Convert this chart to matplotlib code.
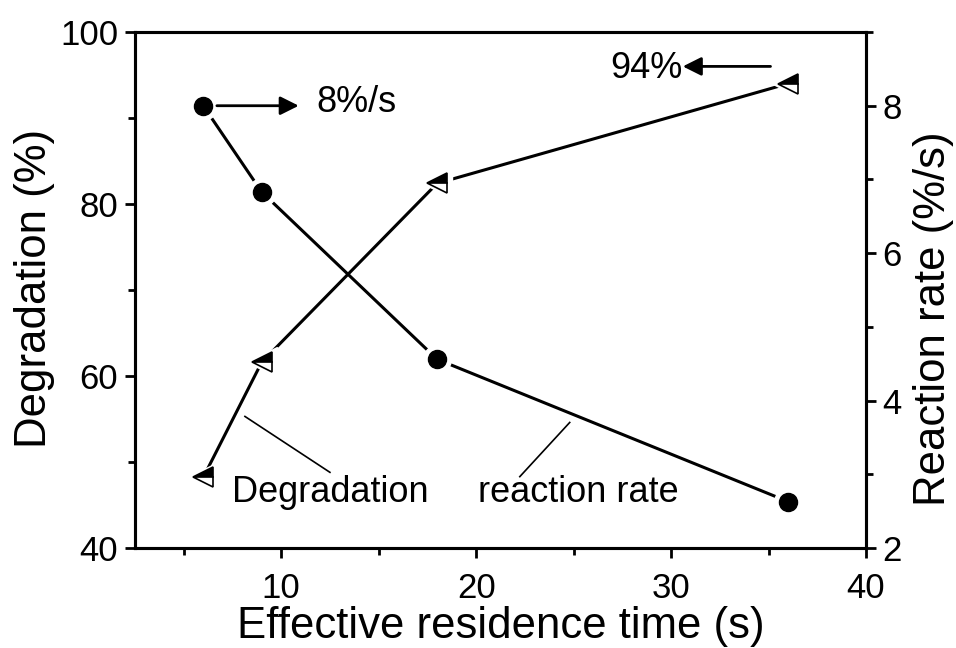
import numpy as np
import matplotlib
matplotlib.use("Agg")
import matplotlib.pyplot as plt
from matplotlib.ticker import MultipleLocator

plt.rcParams['font.family'] = ['Liberation Sans', 'DejaVu Sans']

# residence time (s) and the two measured series
time_s = [6, 9, 18, 36]
degradation = [48.2, 61.6, 82.4, 94]
reaction_rate = [8.0, 6.83, 4.56, 2.63]

fig = plt.figure(figsize=(9.56, 6.48), dpi=100)
ax = fig.add_axes([0.1412, 0.1543, 0.7647, 0.7963])
ax2 = ax.twinx()

for a in (ax, ax2):
    for sp in a.spines.values():
        sp.set_linewidth(2.2)
    a.tick_params(which='major', direction='out', length=7, width=2.0,
                  labelsize=25, pad=5)
    a.tick_params(which='minor', direction='out', length=5, width=2.0)

ax.set_xlim(2.5, 40)
ax.set_ylim(40, 100)
ax2.set_ylim(2, 9)
ax.xaxis.set_major_locator(MultipleLocator(10))
ax.xaxis.set_minor_locator(MultipleLocator(5))
ax.yaxis.set_major_locator(MultipleLocator(20))
ax.yaxis.set_minor_locator(MultipleLocator(10))
ax2.yaxis.set_major_locator(MultipleLocator(2))
ax2.yaxis.set_minor_locator(MultipleLocator(1))
ax.tick_params(axis='x', which='both', top=False)
ax.tick_params(axis='x', pad=10)

# lines with small gaps around the symbols
ax.plot(time_s, degradation, color='black', lw=2.2, zorder=2)
ax.plot(time_s, degradation, ls='none', marker='<', ms=21, mfc='white',
        mec='white', zorder=3)
ax.plot(time_s, degradation, ls='none', marker='<', ms=15, mfc='black',
        mfcalt='white', fillstyle='top', mec='black', mew=1.2, zorder=4)

ax2.plot(time_s, reaction_rate, color='black', lw=2.2, zorder=2)
ax2.plot(time_s, reaction_rate, ls='none', marker='o', ms=20, mfc='white',
         mec='white', zorder=3)
ax2.plot(time_s, reaction_rate, ls='none', marker='o', ms=13, color='black',
         zorder=4)

ax.set_xlabel('Effective residence time (s)', fontsize=31.5, labelpad=1)
fig.text(35 / 956, 1 - 288 / 648, 'Degradation (%)', fontsize=31.5,
         rotation=90, ha='center', va='center')
fig.text(933 / 956, 1 - 319 / 648, 'Reaction rate (%/s)', fontsize=31.5,
         rotation=90, ha='center', va='center')

# arrows pointing to the axis each series belongs to
ax2.annotate('', xy=(10.9, reaction_rate[0]), xytext=(6.7, reaction_rate[0]),
             arrowprops=dict(arrowstyle='-|>', color='black', lw=2.0,
                             mutation_scale=28, shrinkA=0, shrinkB=0))
ax2.text(11.8, reaction_rate[0] + 0.04, '%d%%/s' % round(reaction_rate[0]),
         fontsize=26, ha='left', va='center')

ax.annotate('', xy=(30.6, 96.0), xytext=(35.1, 96.0),
            arrowprops=dict(arrowstyle='-|>', color='black', lw=2.0,
                            mutation_scale=28, shrinkA=0, shrinkB=0))
ax.text(30.6, 95.7, '%d%%' % degradation[-1], fontsize=26, ha='right',
        va='center')

# series labels with leader lines
ax.text(7.5, 45.3, 'Degradation', fontsize=26, ha='left', va='baseline')
ax.plot([12.5, 8.14], [48.8, 55.3], color='black', lw=1.2)
ax.text(20.1, 45.4, 'reaction rate', fontsize=26, ha='left', va='baseline')
ax.plot([22.24, 24.8], [48.3, 54.6], color='black', lw=1.2)

fig.savefig('out.png', dpi=100)
